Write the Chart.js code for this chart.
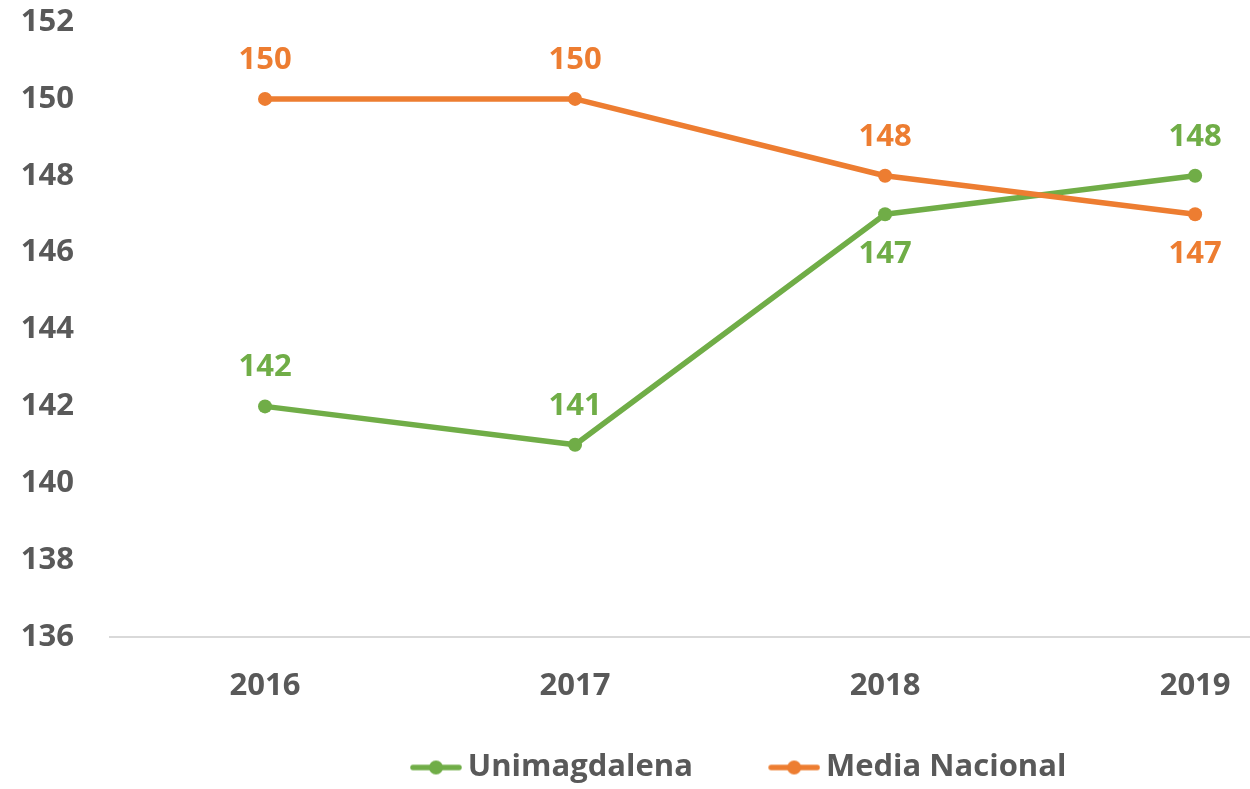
<!DOCTYPE html>
<html>
<head>
<meta charset="utf-8">
<script src="https://cdn.jsdelivr.net/npm/chart.js@4.4.0/dist/chart.umd.min.js"></script>
<style>
  html, body { margin: 0; padding: 0; background: #ffffff; overflow: hidden; }
  #wrap { position: relative; width: 1250px; height: 789px; }
</style>
</head>
<body>
<div id="wrap"><canvas id="c" width="1250" height="789"></canvas></div>
<script>
// ---- data ----
const years = [2016, 2017, 2018, 2019];
const seriesNames = ['Unimagdalena', 'Media Nacional'];
const unimagdalena = [142, 141, 147, 148];
const mediaNacional = [150, 150, 148, 147];
const yTickMin = 136;
const yTickMax = 152;
const yTickStep = 2;

// label placement (style)
const unimagLabelPos = ['above', 'above', 'below', 'above'];
const mediaLabelPos = ['above', 'above', 'above', 'below'];

const GREEN = '#70AD47';
const ORANGE = '#ED7D31';
const TEXT = '#595959';
const FONT = '"Open Sans", "Liberation Sans", sans-serif';
const FS = 31;

Chart.defaults.font.family = FONT;
Chart.defaults.font.size = FS;
Chart.defaults.font.weight = 'bold';
Chart.defaults.color = TEXT;

// legend swatch: line with a circle marker
const PW = 107.5, SW = 127, LINE_LEN = 52;
function swatch(color) {
  const c = document.createElement('canvas');
  c.width = SW; c.height = 18;
  const g = c.getContext('2d');
  g.strokeStyle = color; g.lineWidth = 5.5; g.lineCap = 'round';
  g.beginPath(); g.moveTo(SW - LINE_LEN + 3, 9); g.lineTo(SW - 3, 9); g.stroke();
  g.fillStyle = color;
  g.beginPath(); g.arc(SW - LINE_LEN / 2, 9, 7, 0, Math.PI * 2); g.fill();
  return c;
}
const swatches = [swatch(GREEN), swatch(ORANGE)];

const toPts = arr => arr.map((v, i) => ({ x: years[i], y: v }));

const dataLabels = {
  id: 'dataLabels',
  afterDatasetsDraw(chart) {
    const ctx = chart.ctx;
    ctx.save();
    ctx.font = 'bold ' + FS + 'px ' + FONT;
    ctx.textAlign = 'center';
    ctx.textBaseline = 'middle';
    chart.data.datasets.forEach((ds, di) => {
      const meta = chart.getDatasetMeta(di);
      if (meta.hidden) return;
      meta.data.forEach((pt, i) => {
        const pos = ds.labelPos[i];
        const y = pos === 'above' ? pt.y - 39 : pt.y + 40;
        ctx.fillStyle = ds.borderColor;
        ctx.fillText(String(ds.data[i].y), pt.x, y);
      });
    });
    ctx.restore();
  }
};

const legendPlace = {
  id: 'legendPlace',
  afterLayout(chart) {
    const lg = chart.legend;
    if (!lg || !lg.lineWidths) return;
    const pad = lg.options.labels.padding;
    const start = (lg.left + pad + lg.right - lg.lineWidths[0]) / 2;
    const target = 410 - (PW / 2 + SW / 2 - LINE_LEN);
    const dx = target - start;
    lg.left += dx; lg.right += dx;
    lg.top += 4; lg.bottom += 4;
  }
};

function zeroPad(scale) {
  scale.paddingTop = 0; scale.paddingBottom = 0;
  scale.paddingLeft = 0; scale.paddingRight = 0;
}

new Chart(document.getElementById('c'), {
  type: 'line',
  data: {
    datasets: [
      {
        label: seriesNames[0],
        data: toPts(unimagdalena),
        borderColor: GREEN,
        backgroundColor: GREEN,
        pointBackgroundColor: GREEN,
        borderWidth: 5.5,
        pointRadius: 7,
        pointBorderWidth: 0,
        pointHoverRadius: 7,
        borderJoinStyle: 'round',
        tension: 0,
        order: 1,
        clip: false,
        labelPos: unimagLabelPos
      },
      {
        label: seriesNames[1],
        data: toPts(mediaNacional),
        borderColor: ORANGE,
        backgroundColor: ORANGE,
        pointBackgroundColor: ORANGE,
        borderWidth: 5.5,
        pointRadius: 7,
        pointBorderWidth: 0,
        pointHoverRadius: 7,
        borderJoinStyle: 'round',
        tension: 0,
        order: 0,
        clip: false,
        labelPos: mediaLabelPos
      }
    ]
  },
  options: {
    responsive: false,
    animation: false,
    layout: { autoPadding: false, padding: { top: 22, left: 0, right: 0, bottom: 0 } },
    scales: {
      x: {
        type: 'linear',
        min: 2015.5,
        max: 2019.177,
        afterFit(scale) { scale.height = 101; zeroPad(scale); },
        grid: { display: false, drawTicks: false },
        border: { display: true, color: '#D9D9D9', width: 2 },
        ticks: {
          stepSize: 1,
          includeBounds: false,
          padding: 31,
          color: TEXT,
          font: { size: FS, weight: 'bold' },
          callback: v => String(v)
        }
      },
      y: {
        min: yTickMin,
        max: yTickMax,
        afterFit(scale) { scale.width = 110; zeroPad(scale); },
        grid: { display: false, drawTicks: false },
        border: { display: false },
        ticks: {
          stepSize: yTickStep,
          padding: 36,
          color: TEXT,
          font: { size: FS, weight: 'bold' },
          callback: v => String(v)
        }
      }
    },
    plugins: {
      tooltip: { enabled: false },
      legend: {
        position: 'bottom',
        align: 'center',
        labels: {
          usePointStyle: true,
          pointStyleWidth: PW,
          padding: 10,
          color: TEXT,
          font: { size: FS, weight: 'bold' },
          generateLabels(chart) {
            return chart.data.datasets.map((ds, i) => ({
              text: ds.label,
              pointStyle: swatches[i],
              fillStyle: ds.borderColor,
              strokeStyle: ds.borderColor,
              fontColor: TEXT,
              lineWidth: 0,
              hidden: !chart.isDatasetVisible(i),
              datasetIndex: i
            }));
          }
        }
      }
    }
  },
  plugins: [dataLabels, legendPlace]
});
</script>
</body>
</html>
